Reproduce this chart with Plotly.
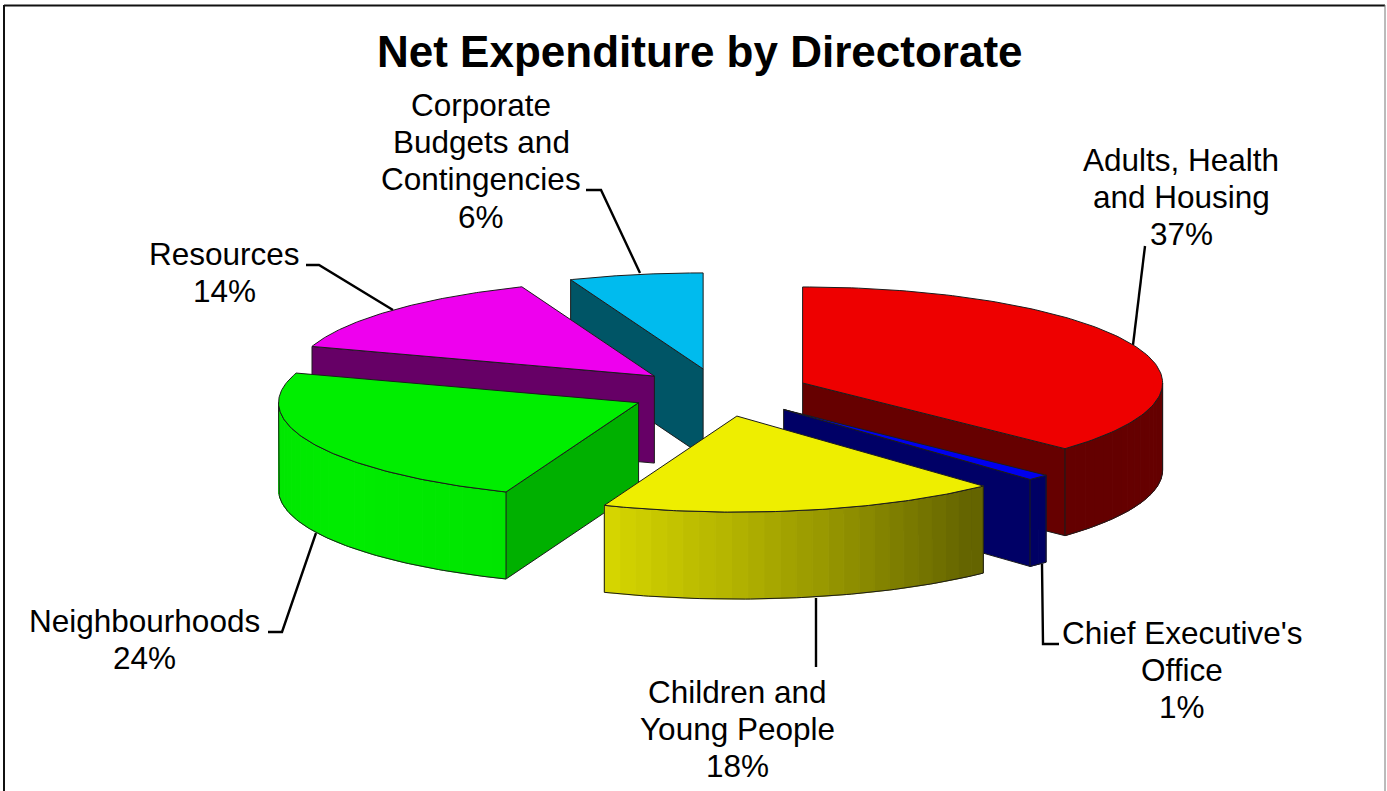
import numpy as np
import plotly.graph_objects as go

# Data
categories = ["Adults, Health and Housing", "Chief Executive's Office", "Children and Young People",
              "Neighbourhoods", "Resources", "Corporate Budgets and Contingencies"]
shares = [37, 1, 18, 24, 14, 6]
title_text = "Net Expenditure by Directorate"

label_lines = [
    ["Adults, Health", "and Housing", "37%"],
    ["Chief Executive's", "Office", "1%"],
    ["Children and", "Young People", "18%"],
    ["Neighbourhoods", "24%"],
    ["Resources", "14%"],
    ["Corporate", "Budgets and", "Contingencies", "6%"],
]
label_x = [1181, 1182, 737, 144, 224, 481]
label_top = [160, 633, 692, 621, 254, 105]
LINE_STEP = 37.2

leader_x = [[1145, 1133], [1042, 1043, 1059], [816, 816], [268, 282, 316], [306, 319, 393], [586, 601, 640]]
leader_y = [[246, 345], [564, 644, 644], [598, 667], [632, 632, 533], [265, 265, 310], [190, 190, 273]]

top_colors = ["#EE0000", "#0000EE", "#EEEE00", "#00EE00", "#EE00EE", "#00BBEE"]
cut_colors = ["#660000", "#000066", "#666600", "#00B000", "#660066", "#005566"]
rim_base = [(238, 0, 0), (0, 0, 238), (238, 238, 0), (0, 255, 0), (238, 0, 238), (0, 187, 238)]

# Rim brightness as a function of the angle round the pie (degrees clockwise from 12 o'clock)
shade_angle = [90, 140, 150, 165, 180, 201, 202, 235, 270]
shade_value = [0.43, 0.42, 0.50, 0.63, 0.75, 0.90, 0.90, 0.93, 0.90]

# Pie geometry, in the pixel units of the axes below
CX, CY = 720, 392.5
RX, RY = 360, 96
DEPTH = 87
EXPLODE = 0.25
draw_order = [5, 4, 0, 1, 3, 2]

W, H = 1387, 791
fig = go.Figure()


def add_poly(xs, ys, fill=None, line="#1c1c1c", width=1):
    fig.add_trace(go.Scatter(
        x=xs, y=ys, mode="lines", hoverinfo="skip", showlegend=False,
        fill="toself" if fill else "none", fillcolor=fill,
        line=dict(color=line, width=width),
    ))


def rim_point(ox, oy, deg):
    t = np.radians(deg)
    return ox + RX * np.sin(t), oy - RY * np.cos(t)


# Leader lines
for lx, ly in zip(leader_x, leader_y):
    add_poly(lx, ly, line="#000000", width=2.4)

# Angular extent of every slice
ends = np.cumsum(shares) / sum(shares) * 360
starts = np.concatenate([[0], ends[:-1]])

for i in draw_order:
    a0, a1 = starts[i], ends[i]
    mid = np.radians((a0 + a1) / 2)
    ox = CX + EXPLODE * RX * np.sin(mid)
    oy = CY - EXPLODE * RY * np.cos(mid)

    # Radial cut faces that turn towards the viewer
    for edge, normal in ((a0, a0 - 90), (a1, a1 + 90)):
        if np.cos(np.radians(normal)) < -1e-6:
            ex, ey = rim_point(ox, oy, edge)
            add_poly([ox, ex, ex, ox, ox], [oy, ey, ey + DEPTH, oy + DEPTH, oy], fill=cut_colors[i])

    # Curved outer wall, built from narrow strips so its shading can vary
    w0, w1 = max(a0, 90), min(a1, 270)
    if w1 > w0:
        steps = max(2, int((w1 - w0) / 2.5))
        marks = np.linspace(w0, w1, steps + 1)
        for s0, s1 in zip(marks[:-1], marks[1:]):
            k = np.interp((s0 + s1) / 2, shade_angle, shade_value)
            r, g, b = (int(c * k) for c in rim_base[i])
            col = f"rgb({r},{g},{b})"
            sx, sy = rim_point(ox, oy, np.linspace(s0, s1, 4))
            add_poly(np.r_[sx, sx[::-1], sx[0]], np.r_[sy, sy[::-1] + DEPTH, sy[0]], fill=col, line=col, width=1)
        wx, wy = rim_point(ox, oy, np.linspace(w0, w1, 80))
        add_poly(np.r_[wx, wx[::-1], wx[0]], np.r_[wy, wy[::-1] + DEPTH, wy[0]])

    # Top surface of the slice
    tx, ty = rim_point(ox, oy, np.linspace(a0, a1, 120))
    add_poly(np.r_[ox, tx, ox], np.r_[oy, ty, oy], fill=top_colors[i])

annotations = [dict(
    x=700, y=51, text=f"<b>{title_text}</b>", showarrow=False,
    font=dict(family="Liberation Sans", size=44, color="#000000"),
    xanchor="center", yanchor="middle",
)]
for lines, x, top in zip(label_lines, label_x, label_top):
    for n, line in enumerate(lines):
        annotations.append(dict(
            x=x, y=top + n * LINE_STEP, text=line, showarrow=False,
            font=dict(family="Liberation Sans", size=31.5, color="#000000"),
            xanchor="center", yanchor="middle",
        ))

frame = [
    dict(type="line", x0=4, x1=4, y0=5, y1=H, line=dict(color="#111111", width=2)),
    dict(type="line", x0=4, x1=1385, y0=5.5, y1=5.5, line=dict(color="#111111", width=2)),
    dict(type="line", x0=1385, x1=1385, y0=5, y1=H, line=dict(color="#777777", width=1)),
]

fig.update_layout(
    width=W, height=H, margin=dict(l=0, r=0, t=0, b=0),
    paper_bgcolor="#FFFFFF", plot_bgcolor="#FFFFFF",
    xaxis=dict(range=[0, W], visible=False, fixedrange=True),
    yaxis=dict(range=[H, 0], visible=False, fixedrange=True),
    showlegend=False, annotations=annotations, shapes=frame,
)
fig.write_html("out.html", config=dict(displayModeBar=False))
